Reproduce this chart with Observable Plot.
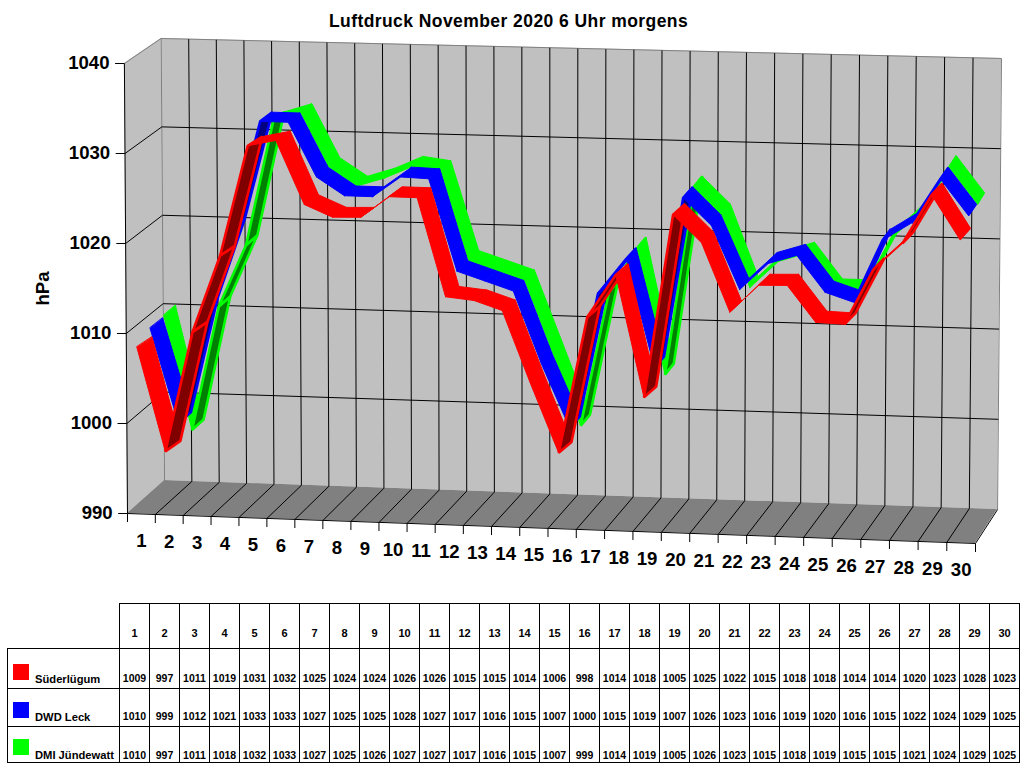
<!DOCTYPE html>
<html><head><meta charset="utf-8">
<script src="https://cdn.jsdelivr.net/npm/d3@7"></script>
<script src="https://cdn.jsdelivr.net/npm/@observablehq/plot@0.6"></script>
<style>
html,body{margin:0;padding:0;background:#fff;font-family:"Liberation Sans",Arial,sans-serif}
#page{position:relative;width:1024px;height:768px;overflow:hidden}
#title{position:absolute;left:0;top:11px;width:1017px;text-align:center;font:bold 17.5px "Liberation Sans",Arial,sans-serif;letter-spacing:.43px;color:#000}
#chart{position:absolute;left:0;top:0}
#chart svg{display:block}
table{position:absolute;left:7px;top:603px;border-collapse:collapse;table-layout:fixed;font:bold 10.5px "Liberation Sans",Arial,sans-serif;color:#000}
td{border:1px solid #000;padding:0;text-align:center;vertical-align:bottom;overflow:visible;white-space:nowrap}
td.hd{vertical-align:middle;padding:14px 0 0 0;font-size:11px}
td.blank{border-left:none;border-top:none}
td.lab{text-align:left;position:relative;font-size:11.2px;padding-left:27px}
td.lab i{position:absolute;left:5px;width:16px;height:16px;display:block}
</style></head><body>
<div id="page"><div id="title">Luftdruck November 2020 6 Uhr morgens</div><div id="chart"></div><div id="tbl"></div></div>
<script>
const days = d3.range(1, 31);
const seriesNames = ["Süderlügum", "DWD Leck", "DMI Jündewatt"];
const seriesColors = ["#ff0000", "#0000ff", "#00ff00"];
const underColors = ["#800000", "#000080", "#008000"];
// rounded values printed in the data table
const tableSuederluegum = [1009,997,1011,1019,1031,1032,1025,1024,1024,1026,1026,1015,1015,1014,1006,998,1014,1018,1005,1025,1022,1015,1018,1018,1014,1014,1020,1023,1028,1023];
const tableDwdLeck = [1010,999,1012,1021,1033,1033,1027,1025,1025,1028,1027,1017,1016,1015,1007,1000,1015,1019,1007,1026,1023,1016,1019,1020,1016,1015,1022,1024,1029,1025];
const tableDmiJuendewatt = [1010,997,1011,1018,1032,1033,1027,1025,1026,1027,1027,1017,1016,1015,1007,999,1014,1019,1005,1026,1023,1015,1018,1019,1015,1015,1021,1024,1029,1025];
const suederluegum = [1008.5,997,1010.4,1019,1031.3,1032,1025,1023.7,1023.8,1026.2,1026.2,1015.3,1015,1014,1006,998.4,1013.6,1018.4,1004.9,1025.3,1022.3,1014.7,1017.8,1017.9,1013.9,1013.8,1020,1023,1028.5,1023.6];
const dwdLeck = [1009.5,999,1012,1021,1033,1033,1027,1025,1025,1027.3,1027.2,1017,1016,1015,1007,1000,1015,1019,1007,1026,1023,1016,1019,1020,1016,1015,1022,1024,1029,1025];
const dmiJuendewatt = [1009.8,997,1011,1018,1032,1033,1027,1025,1026,1027.4,1027,1017,1016,1015,1007,999,1014,1019,1005,1026,1023,1015,1018,1019,1015,1015,1021,1024,1029,1025];
const pressureTicks = [990,1000,1010,1020,1030,1040];
const drawnSeries = [suederluegum, dwdLeck, dmiJuendewatt];
const tableSeries = [tableSuederluegum, tableDwdLeck, tableDmiJuendewatt];

// 3D box corners in data units: [category position, hPa]
const box = {
  fb0:[0,990], fb1:[30,986.67], ft0:[-0.11,1040], ft1:[30.14,1036.67],
  bb0:[1.31,993.67], bb1:[30.78,990.44], bt0:[1.19,1042.78], bt1:[30.92,1040.56]
};
const lerp = (a,b,t)=>a+(b-a)*t;
function proj(i,v,d){
  const t=i/30, h=(v-990)/50;
  const out=[0,1].map(k=>{
    const f0=lerp(box.fb0[k],box.ft0[k],h), f1=lerp(box.fb1[k],box.ft1[k],h);
    const b0=lerp(box.bb0[k],box.bt0[k],h), b1=lerp(box.bb1[k],box.bt1[k],h);
    return lerp(lerp(f0,f1,t),lerp(b0,b1,t),d);
  });
  return {x:out[0]-0.124*4*t*(1-t), y:out[1]};
}
const quad=(a,b,c,e)=>[{x1:a.x,y1:a.y,x2:b.x,y2:b.y},{x1:c.x,y1:c.y,x2:e.x,y2:e.y}];
const seg=(a,b)=>({x1:a.x,y1:a.y,x2:b.x,y2:b.y});

// ribbons: slight widening of each band, in category units
const edgeNear=[-0.106,-0.07,-0.018], edgeFar=[0,-0.053,-0.035];
const ribbons=[];
[2,1,0].forEach(k=>{
  const vals=drawnSeries[k], d0=k/3, d1=(k+1)/3;
  for(let i=0;i<vals.length-1;i++){
    const a=proj(i+.5,vals[i],d0), b=proj(i+.5,vals[i],d1), c=proj(i+1.5,vals[i+1],d0), e=proj(i+1.5,vals[i+1],d1);
    const sx=c.x-a.x, sy=c.y-a.y, dx=b.x-a.x, dy=b.y-a.y;
    const under = sx*dy-sy*dx < 0;
    const key=`${k}-${i}`;
    [[a,b],[c,e]].forEach(([p,q])=>ribbons.push({key,x1:p.x+edgeNear[k],y1:p.y,x2:q.x+edgeFar[k],y2:q.y,
      fill:under?underColors[k]:seriesColors[k],stroke:seriesColors[k],sw:under?2.6:1}));
  }
});

const gridV=d3.range(1,30).map(i=>seg(proj(i,990,1),proj(i,1040,1)));
const gridFloor=d3.range(1,30).map(i=>seg(proj(i,990,0),proj(i,990,1)));
const gridBack=pressureTicks.slice(1,-1).map(v=>seg(proj(0,v,1),proj(30,v,1)));
const gridLeft=pressureTicks.slice(1,-1).map(v=>seg(proj(0,v,0),proj(0,v,1)));
const tickX=d3.range(0,31).map(i=>{const p=proj(i,990,0);return {x1:p.x,y1:p.y,x2:p.x,y2:p.y-0.95};});
const tickY=pressureTicks.map(v=>{const p=proj(0,v,0);return {x1:p.x-0.33,y1:p.y,x2:p.x,y2:p.y,v};});
const labelsX=days.map((d,i)=>{const p=proj(i+.5,990,0);return {x:p.x,y:p.y-3.05,d};});

const font={fontFamily:"Liberation Sans, Arial, sans-serif",fontWeight:"bold",fontSize:18.6,fill:"#000"};
const plot=Plot.plot({
  width:1024,height:595,margin:0,
  x:{domain:[0,30],range:[127,975],axis:null},
  y:{domain:[990,1040],range:[513,63],axis:null},
  color:{type:"identity"},
  marks:[
    Plot.area(quad(proj(0,990,1),proj(0,1040,1),proj(30,990,1),proj(30,1040,1)),{x1:"x1",y1:"y1",x2:"x2",y2:"y2",fill:"#c0c0c0"}),
    Plot.area(quad(proj(0,990,0),proj(0,1040,0),proj(0,990,1),proj(0,1040,1)),{x1:"x1",y1:"y1",x2:"x2",y2:"y2",fill:"#c0c0c0"}),
    Plot.area(quad(proj(0,990,0),proj(0,990,1),proj(30,990,0),proj(30,990,1)),{x1:"x1",y1:"y1",x2:"x2",y2:"y2",fill:"#808080"}),
    Plot.link([seg(proj(0,990,1),proj(0,1040,1)),seg(proj(0,1040,1),proj(30,1040,1)),seg(proj(30,1040,1),proj(30,990,1)),seg(proj(0,1040,0),proj(0,1040,1))],
      {x1:"x1",y1:"y1",x2:"x2",y2:"y2",stroke:"#808080",strokeWidth:1}),
    Plot.link([...gridV,...gridFloor,...gridBack,...gridLeft],{x1:"x1",y1:"y1",x2:"x2",y2:"y2",stroke:"#000",strokeWidth:1}),
    Plot.area(ribbons,{x1:"x1",y1:"y1",x2:"x2",y2:"y2",z:"key",fill:"fill",stroke:"stroke",strokeWidth:d=>d.sw,strokeLinejoin:"miter"}),
    Plot.link([seg(proj(0,990,0),proj(0,1040,0)),seg(proj(0,990,0),proj(30,990,0)),seg(proj(30,990,0),proj(30,990,1))],
      {x1:"x1",y1:"y1",x2:"x2",y2:"y2",stroke:"#000",strokeWidth:1}),
    Plot.link(tickX,{x1:"x1",y1:"y1",x2:"x2",y2:"y2",stroke:"#000",strokeWidth:1}),
    Plot.link(tickY,{x1:"x1",y1:"y1",x2:"x2",y2:"y2",stroke:"#000",strokeWidth:1}),
    Plot.text(tickY,{x:"x1",y:"y1",text:d=>String(d.v),textAnchor:"end",dx:-5.5,...font}),
    Plot.text(labelsX,{x:"x",y:"y",text:d=>String(d.d),...font}),
    Plot.text(["hPa"],{x:-3,y:1015,text:d=>d,rotate:-90,...font})
  ]
});
document.getElementById("chart").append(plot);

// data table below the chart
const t=d3.select("#tbl").append("table");
const cg=t.append("colgroup");
cg.append("col").style("width","112px");
days.forEach(()=>cg.append("col").style("width","30px"));
const hr=t.append("tr").style("height","45px");
hr.append("td").attr("class","blank");
days.forEach(d=>hr.append("td").attr("class","hd").text(d));
const rowH=[40,38,36], rowPad=[4,4,1], labPad=[3,3,1];
const swatchTop=[15,13,12];
seriesNames.forEach((n,k)=>{
  const r=t.append("tr").style("height",rowH[k]+"px");
  const c=r.append("td").attr("class","lab").style("padding-bottom",labPad[k]+"px");
  c.append("i").style("background",seriesColors[k]).style("top",swatchTop[k]+"px");
  c.append("span").text(n);
  tableSeries[k].forEach(v=>r.append("td").style("padding-bottom",rowPad[k]+"px").text(v));
});
</script></body></html>
